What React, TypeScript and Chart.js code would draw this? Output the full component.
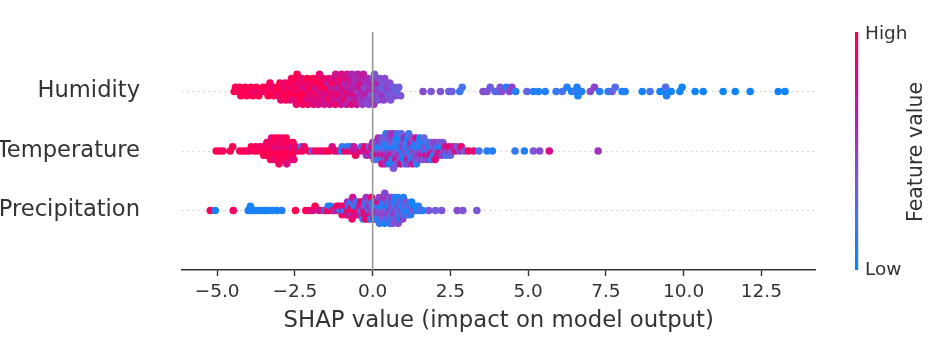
import React, { useEffect, useRef } from 'react';
import { Chart, registerables } from 'chart.js';

Chart.register(...registerables);

// ---------------- data ----------------
const features = ['Humidity', 'Temperature', 'Precipitation'];
const featureRows = [2, 1, 0];
const xTickValues = [-5, -2.5, 0, 2.5, 5, 7.5, 10, 12.5];
const xAxisTitle = 'SHAP value (impact on model output)';
const colorbarTitle = 'Feature value';
const colorbarHigh = 'High';
const colorbarLow = 'Low';

const humidityShap = [
  -4.45, -4.41, -4.33, -4.28, -4.24, -4.17, -4.10, -4.05, -3.98, -3.92, -3.85, -3.80, -3.74, -3.66, -3.58, -3.52, -3.46, -3.41, -3.36, -3.30, -3.27, -3.22,
  -3.18, -3.12, -3.07, -3.02,
  -2.98, -2.95, -2.91, -2.87, -2.84, -2.81,
  -2.79, -2.76, -2.73, -2.70, -2.67, -2.64, -2.61,
  -2.59, -2.57, -2.54, -2.52, -2.49, -2.47, -2.45, -2.43, -2.41,
  -2.39, -2.36, -2.33, -2.31, -2.28, -2.25, -2.23, -2.21,
  -2.19, -2.16, -2.13, -2.10, -2.08, -2.05, -2.03, -2.01,
  -1.98, -1.95, -1.92, -1.89, -1.87, -1.84, -1.82, -1.80,
  -1.79, -1.76, -1.74, -1.71, -1.68, -1.66, -1.64, -1.62, -1.60,
  -1.58, -1.55, -1.52, -1.49, -1.47, -1.44, -1.42, -1.40,
  -1.38, -1.35, -1.33, -1.30, -1.27, -1.25, -1.22, -1.20,
  -1.19, -1.17, -1.14, -1.11, -1.09, -1.06, -1.04, -1.02, -1.00,
  -0.98, -0.95, -0.93, -0.90, -0.88, -0.86, -0.84, -0.82, -0.80,
  -0.79, -0.77, -0.74, -0.72, -0.70, -0.68, -0.66, -0.64, -0.62, -0.60,
  -0.58, -0.56, -0.53, -0.51, -0.48, -0.46, -0.44, -0.42, -0.40,
  -0.38, -0.35, -0.33, -0.30, -0.27, -0.25, -0.23, -0.21,
  -0.19, -0.16, -0.13, -0.11, -0.08, -0.06, -0.04, -0.02,
  0.01, 0.04, 0.06, 0.09, 0.12, 0.14, 0.17, 0.19,
  0.22, 0.25, 0.28, 0.31, 0.34, 0.36, 0.39,
  0.43, 0.47, 0.51, 0.55, 0.58,
  0.63, 0.68, 0.73, 0.78,
  0.84, 0.90,
  1.62, 1.88, 2.18, 2.45, 2.55, 2.80, 2.88,
  3.55, 3.68, 3.78, 3.94, 4.02, 4.10, 4.16, 4.30, 4.40, 4.48, 4.60,
  4.96, 5.17, 5.33, 5.55, 5.90, 6.10, 6.25, 6.40, 6.52, 6.57, 6.60, 6.72,
  7.00, 7.13, 7.30, 7.57, 7.70, 7.80, 8.02, 8.12, 8.67, 8.92,
  9.24, 9.38, 9.42, 9.45, 9.60, 9.88, 9.95,
  10.37, 10.63, 11.27, 11.66, 12.14, 13.04, 13.26,
];
const humidityValue = [
  1, 1, 0.95, 1, 1, 0.95, 1, 1, 0.95, 1, 1, 0.9, 1, 1, 0.95, 1, 0.9, 1, 1, 0.95, 1, 0.9,
  1, 0.95, 1, 0.9,
  1, 0.9, 1, 0.95, 1, 0.85,
  1, 0.95, 0.9, 1, 1, 0.85, 0.95,
  1, 0.9, 1, 0.95, 0.85, 1, 0.9, 1, 0.95,
  0.95, 1, 0.85, 1, 0.9, 0.95, 1, 0.8,
  1, 0.9, 0.8, 1, 0.95, 0.85, 1, 0.9,
  0.9, 0.8, 1, 0.85, 0.95, 0.75, 0.9, 1,
  0.85, 1, 0.8, 0.9, 0.75, 0.95, 0.85, 1, 0.8,
  0.9, 0.75, 0.85, 1, 0.8, 0.7, 0.95, 0.85,
  0.8, 0.9, 0.7, 0.85, 1, 0.75, 0.8, 0.9,
  0.75, 0.85, 0.65, 0.9, 0.8, 0.7, 0.95, 0.75, 0.8,
  0.7, 0.85, 0.75, 0.6, 0.9, 0.8, 0.65, 0.75, 0.85,
  0.65, 0.8, 0.7, 0.55, 0.75, 0.85, 0.6, 0.7, 0.65, 0.8,
  0.6, 0.7, 0.55, 0.75, 0.65, 0.5, 0.7, 0.6, 0.8,
  0.55, 0.65, 0.5, 0.7, 0.6, 0.45, 0.65, 0.55,
  0.5, 0.6, 0.45, 0.65, 0.55, 0.4, 0.6, 0.5,
  0.45, 0.55, 0.4, 0.6, 0.5, 0.45, 0.65, 0.4,
  0.45, 0.5, 0.35, 0.55, 0.4, 0.5, 0.45,
  0.4, 0.5, 0.35, 0.45, 0.4,
  0.4, 0.35, 0.45, 0.3,
  0.35, 0.4,
  0.45, 0.4, 0.4, 0.3, 0.35, 0.15, 0.2,
  0.45, 0.4, 0.35, 0.3, 0.25, 0.4, 0.45, 0.1, 0.45, 0.5, 0.1,
  0.3, 0.1, 0.1, 0.1, 0.15, 0.2, 0.1, 0.05, 0.2, 0.1, 0.05, 0.1,
  0.45, 0.5, 0.1, 0.1, 0.35, 0.25, 0.05, 0.1, 0.05, 0.2,
  0.05, 0.05, 0.25, 0.1, 0.05, 0.05, 0.05,
  0.05, 0.05, 0.05, 0.05, 0.05, 0.05, 0.05,
];

const temperatureShap = [
  -5.03, -4.92, -4.81, -4.58, -4.50, -4.27, -4.16, -4.06, -3.97, -3.90, -3.81, -3.76, -3.70, -3.63, -3.58,
  -3.53, -3.50, -3.47, -3.45,
  -3.42, -3.40, -3.37, -3.35, -3.33,
  -3.30, -3.28, -3.25, -3.23, -3.21, -3.19,
  -3.17, -3.15, -3.13, -3.11, -3.10, -3.08, -3.07,
  -3.05, -3.03, -3.01, -2.99, -2.97, -2.96, -2.95,
  -2.93, -2.91, -2.88, -2.86, -2.84, -2.82,
  -2.80, -2.78, -2.76, -2.74, -2.72, -2.70,
  -2.68, -2.66, -2.63, -2.61, -2.58,
  -2.56, -2.53, -2.50, -2.47,
  -2.38, -2.29, -2.26, -2.20, -2.05, -1.95, -1.85, -1.72, -1.62, -1.50, -1.40, -1.30, -1.22, -1.12,
  -1.00, -0.98, -0.90, -0.82, -0.78, -0.70, -0.66, -0.60, -0.55, -0.48, -0.42, -0.36, -0.30, -0.25, -0.20, -0.15, -0.10, -0.06,
  0.02, -0.03, 0.04, 0.00, 0.05,
  0.08, 0.10, 0.12, 0.14, 0.16, 0.18,
  0.20, 0.22, 0.24, 0.26, 0.27, 0.29, 0.30,
  0.32, 0.34, 0.35, 0.37, 0.38, 0.40, 0.41, 0.43,
  0.44, 0.46, 0.48, 0.49, 0.51, 0.52, 0.54, 0.55,
  0.57, 0.58, 0.60, 0.61, 0.62, 0.64, 0.65, 0.66, 0.67,
  0.69, 0.70, 0.72, 0.74, 0.75, 0.77, 0.78, 0.79,
  0.81, 0.83, 0.84, 0.86, 0.87, 0.89, 0.90, 0.92,
  0.94, 0.95, 0.97, 0.99, 1.00, 1.02, 1.04,
  1.06, 1.07, 1.09, 1.10, 1.12, 1.13, 1.14, 1.16,
  1.18, 1.20, 1.22, 1.23, 1.25, 1.27, 1.28,
  1.30, 1.32, 1.34, 1.36, 1.37, 1.39, 1.41,
  1.43, 1.45, 1.47, 1.48, 1.50, 1.52,
  1.55, 1.57, 1.59, 1.61, 1.63, 1.65,
  1.68, 1.70, 1.72, 1.74, 1.77,
  1.80, 1.82, 1.85, 1.87, 1.89,
  1.92, 1.94, 1.96, 1.99, 2.01,
  2.04, 2.07, 2.10, 2.13,
  2.17, 2.20, 2.23, 2.26,
  2.29, 2.33, 2.37,
  2.42, 2.46, 2.50,
  2.55, 2.60, 2.67, 2.72, 2.80, 2.85, 2.95, 3.08,
  3.25, 3.42, 3.68, 3.85, 4.58, 4.88, 5.17, 5.37, 5.68, 7.25,
];
const temperatureValue = [
  1, 1, 0.95, 1, 1, 0.95, 1, 1, 0.9, 1, 1, 0.95, 1, 0.9, 1,
  1, 0.95, 1, 0.9,
  1, 0.9, 1, 0.95, 1,
  0.95, 1, 0.85, 1, 0.9, 1,
  1, 0.9, 1, 0.95, 0.8, 1, 0.9,
  0.9, 1, 0.95, 1, 0.85, 1, 0.95,
  1, 0.85, 1, 0.9, 1, 0.95,
  0.95, 1, 0.8, 1, 0.9, 1,
  1, 0.9, 0.95, 0.8, 1,
  0.95, 0.85, 1, 0.9,
  0.9, 0.3, 0.95, 0.9, 1, 0.45, 0.9, 1, 0.85, 0.95, 1, 0.8, 0.9, 0.85,
  0.1, 0.15, 0.85, 0.1, 0.9, 0.15, 0.8, 0.7, 0.95, 0.6, 0.85, 0.3, 0.75, 0.9, 0.55, 0.8, 0.35, 0.7,
  0.45, 0.75, 0.1, 0.55, 0.4,
  0.5, 0.15, 0.8, 0.45, 0.2, 0.6,
  0.4, 0.1, 0.7, 0.5, 0.15, 0.45, 0.85,
  0.45, 0.2, 0.75, 0.1, 0.5, 0.35, 0.6, 0.1,
  0.4, 0.1, 0.55, 0.15, 0.8, 0.45, 0.05, 0.5,
  0.45, 0.1, 0.7, 0.35, 0.15, 0.5, 0.1, 0.6, 0.4,
  0.5, 0.1, 0.45, 0.2, 0.75, 0.05, 0.4, 0.15,
  0.4, 0.1, 0.55, 0.15, 0.45, 0.05, 0.8, 0.3,
  0.1, 0.5, 0.15, 0.4, 0.05, 0.6, 0.2,
  0.45, 0.1, 0.35, 0.15, 0.7, 0.05, 0.5, 0.2,
  0.1, 0.45, 0.2, 0.6, 0.1, 0.4, 0.75,
  0.5, 0.1, 0.35, 0.15, 0.45, 0.8, 0.1,
  0.4, 0.1, 0.55, 0.2, 0.45, 0.05,
  0.5, 0.15, 0.7, 0.1, 0.4, 0.3,
  0.1, 0.45, 0.75, 0.2, 0.5,
  0.45, 0.1, 0.8, 0.35, 0.15,
  0.7, 0.4, 0.1, 0.5, 0.85,
  0.45, 0.15, 0.75, 0.4,
  0.8, 0.1, 0.5, 0.4,
  0.45, 0.75, 0.15,
  0.5, 0.85, 0.3,
  0.45, 0.7, 0.8, 0.4, 0.5, 0.9, 0.4, 0.95,
  0.85, 0.2, 0.1, 0.1, 0.15, 0.1, 0.4, 0.45, 0.8, 0.55,
];

const precipitationShap = [
  -5.22, -5.06, -4.48,
  -4.00, -3.95, -3.93, -3.86, -3.78, -3.66, -3.55, -3.44, -3.36, -3.22, -3.08, -2.92,
  -2.48, -2.15, -2.02, -1.92, -1.85, -1.72,
  -1.58, -1.52, -1.47, -1.43, -1.40, -1.35, -1.28, -1.22, -1.15, -1.10,
  -1.08, -1.05, -1.02,
  -0.98, -0.95, -0.92,
  -0.89, -0.86, -0.84, -0.81,
  -0.79, -0.76, -0.74, -0.71,
  -0.69, -0.68, -0.67, -0.66, -0.64, -0.62,
  -0.59, -0.57, -0.55, -0.53, -0.51,
  -0.49, -0.47, -0.45, -0.43, -0.41,
  -0.39, -0.37, -0.35, -0.34, -0.32, -0.31,
  -0.29, -0.27, -0.25, -0.24, -0.22, -0.21,
  -0.19, -0.18, -0.16, -0.15, -0.13, -0.12, -0.11,
  -0.09, -0.07, -0.06, -0.04, -0.03, -0.01,
  0.01, 0.03, 0.05, 0.06, 0.08, 0.09,
  0.11, 0.12, 0.14, 0.15, 0.17, 0.18, 0.19,
  0.21, 0.22, 0.24, 0.25, 0.27, 0.28, 0.29,
  0.31, 0.32, 0.33, 0.35, 0.36, 0.37, 0.38, 0.39,
  0.41, 0.42, 0.43, 0.45, 0.46, 0.47, 0.48, 0.49,
  0.51, 0.52, 0.53, 0.55, 0.56, 0.57, 0.58, 0.59,
  0.61, 0.62, 0.63, 0.65, 0.66, 0.67, 0.68, 0.69,
  0.71, 0.72, 0.74, 0.75, 0.77, 0.78, 0.79,
  0.81, 0.82, 0.84, 0.85, 0.87, 0.88, 0.89,
  0.91, 0.93, 0.94, 0.96, 0.97, 0.99,
  1.01, 1.03, 1.05, 1.07, 1.09,
  1.12, 1.14, 1.17, 1.19,
  1.22, 1.25, 1.28,
  1.32, 1.35, 1.38,
  1.43, 1.47, 1.54, 1.61,
  1.80, 2.02, 2.22, 2.72, 2.90, 3.35,
];
const precipitationValue = [
  0.95, 0.05, 0.95,
  0.05, 0.1, 0.05, 0.1, 0.05, 0.05, 0.1, 0.05, 0.05, 0.1, 0.05, 0.1,
  1, 1, 0.9, 0.8, 1, 0.75,
  0.9, 0.1, 0.95, 0.1, 0.85, 0.1, 0.95, 0.6, 1, 0.9,
  0.95, 0.1, 0.8,
  0.9, 0.5, 1,
  0.1, 0.85, 0.95, 0.55,
  0.9, 0.15, 0.75, 1,
  0.85, 0.6, 0.1, 0.9, 0.75, 0.95,
  0.1, 0.85, 0.5, 0.95, 0.15,
  0.8, 0.1, 0.9, 0.6, 0.75,
  0.95, 0.15, 0.8, 0.5, 0.9, 0.1,
  0.75, 0.45, 0.95, 0.1, 0.85, 0.55,
  0.9, 0.1, 0.7, 0.45, 0.95, 0.15, 0.6,
  0.8, 0.4, 0.1, 0.9, 0.5, 0.15,
  0.45, 0.1, 0.75, 0.4, 0.15, 0.5,
  0.4, 0.1, 0.55, 0.2, 0.45, 0.85, 0.1,
  0.5, 0.15, 0.4, 0.1, 0.45, 0.6, 0.2,
  0.45, 0.1, 0.5, 0.15, 0.4, 0.55, 0.1, 0.45,
  0.4, 0.1, 0.5, 0.45, 0.15, 0.55, 0.35, 0.1,
  0.5, 0.15, 0.45, 0.4, 0.1, 0.6, 0.45, 0.2,
  0.45, 0.1, 0.5, 0.4, 0.15, 0.45, 0.55, 0.1,
  0.4, 0.1, 0.5, 0.15, 0.45, 0.1, 0.4,
  0.1, 0.45, 0.15, 0.5, 0.1, 0.4, 0.05,
  0.45, 0.1, 0.4, 0.05, 0.5, 0.1,
  0.1, 0.4, 0.05, 0.45, 0.1,
  0.1, 0.4, 0.05, 0.35,
  0.1, 0.05, 0.4,
  0.05, 0.35, 0.1,
  0.05, 0.1, 0.35, 0.1,
  0.4, 0.35, 0.4, 0.45, 0.4, 0.4,
];

const featureShap = [humidityShap, temperatureShap, precipitationShap];
const featureValues = [humidityValue, temperatureValue, precipitationValue];

// ---------------- styling / layout ----------------
const X_MIN = -6.13;
const X_MAX = 14.24;
const AXIS_COLOR = '#333333';
const FONT = 'DejaVu Sans';

const COLOR_STOPS: [number, number[]][] = [
  [0, [0, 138, 250]],
  [0.2, [70, 115, 240]],
  [0.4, [125, 85, 215]],
  [0.5, [145, 65, 200]],
  [0.6, [170, 40, 180]],
  [0.8, [215, 12, 135]],
  [1, [255, 0, 82]],
];

function colorFor(f: number): string {
  const t = Math.max(0, Math.min(1, f));
  for (let i = 1; i < COLOR_STOPS.length; i++) {
    const [t1, c1] = COLOR_STOPS[i];
    const [t0, c0] = COLOR_STOPS[i - 1];
    if (t <= t1) {
      const u = (t - t0) / (t1 - t0 || 1);
      const c = c0.map((v, k) => Math.round(v + (c1[k] - v) * u));
      return `rgb(${c[0]},${c[1]},${c[2]})`;
    }
  }
  const c = COLOR_STOPS[COLOR_STOPS.length - 1][1];
  return `rgb(${c[0]},${c[1]},${c[2]})`;
}

// beeswarm stacking (same layout rule as shap's summary plot)
function swarmOffsets(shaps: number[], rowHeight = 0.4): number[] {
  const n = shaps.length;
  const nbins = 100;
  const mn = Math.min(...shaps);
  const mx = Math.max(...shaps);
  const quant = shaps.map((v) => Math.round((nbins * (v - mn)) / (mx - mn + 1e-8)));
  const inds = quant.map((_, i) => i).sort((a, b) => quant[a] - quant[b] || a - b);
  const ys = new Array(n).fill(0);
  let layer = 0;
  let last = -1;
  for (const i of inds) {
    if (quant[i] !== last) layer = 0;
    ys[i] = Math.ceil(layer / 2) * ((layer % 2) * 2 - 1);
    layer += 1;
    last = quant[i];
  }
  const m = Math.max(...ys.map((y) => y + 1));
  return ys.map((y) => (y * 0.9 * rowHeight) / m);
}

function fmtTick(v: number): string {
  return v.toFixed(1).replace('-', '\u2212');
}

const colorbarPlugin = {
  id: 'shapColorbar',
  afterDraw(chart: any) {
    const { ctx, chartArea } = chart;
    const top = chartArea.top;
    const bottom = chartArea.bottom;
    const x = 855;
    const w = 3.2;
    ctx.save();
    const grad = ctx.createLinearGradient(0, bottom, 0, top);
    COLOR_STOPS.forEach(([t, c]) => grad.addColorStop(t, `rgb(${c[0]},${c[1]},${c[2]})`));
    ctx.fillStyle = grad;
    ctx.fillRect(x, top, w, bottom - top);
    ctx.fillStyle = AXIS_COLOR;
    ctx.font = `18.5px "${FONT}"`;
    ctx.textAlign = 'left';
    ctx.textBaseline = 'middle';
    ctx.fillText(colorbarHigh, 865, top + 2);
    ctx.fillText(colorbarLow, 865, bottom);
    ctx.translate(917, (top + bottom) / 2 + 1);
    ctx.rotate(-Math.PI / 2);
    ctx.textAlign = 'center';
    ctx.font = `20.5px "${FONT}"`;
    ctx.fillText(colorbarTitle, 0, 0);
    ctx.restore();
  },
};

export default function App() {
  const ref = useRef<HTMLCanvasElement | null>(null);

  useEffect(() => {
    if (!ref.current) return;
    const scatterSets = features.map((name, r) => {
      const shaps = featureShap[r];
      const vals = featureValues[r];
      const offs = swarmOffsets(shaps);
      return {
        type: 'scatter' as const,
        label: name,
        data: shaps.map((v, i) => ({ x: v, y: featureRows[r] + offs[i] })),
        pointBackgroundColor: shaps.map((_, i) => colorFor(vals[i] ?? 0.5)),
        pointBorderWidth: 0,
        borderWidth: 0,
        pointRadius: 3.8,
        pointHoverRadius: 3.8,
        order: 1,
      };
    });

    const chart = new Chart(ref.current, {
      type: 'scatter',
      data: {
        datasets: [
          {
            type: 'line' as const,
            label: 'zero',
            data: [
              { x: 0, y: -1 },
              { x: 0, y: 3 },
            ],
            borderColor: '#999999',
            borderWidth: 1.6,
            pointRadius: 0,
            showLine: true,
            order: 0,
          } as any,
          ...scatterSets,
        ],
      },
      options: {
        animation: false,
        responsive: false,
        maintainAspectRatio: false,
        events: [],
        layout: { padding: { top: 32, right: 126.5, left: 0, bottom: 0 } },
        plugins: { legend: { display: false }, tooltip: { enabled: false } },
        scales: {
          x: {
            type: 'linear',
            min: X_MIN,
            max: X_MAX,
            afterBuildTicks: (s: any) => {
              s.ticks = xTickValues.map((v) => ({ value: v }));
            },
            afterFit: (s: any) => {
              s.height = 80;
            },
            ticks: {
              callback: (v: any) => fmtTick(Number(v)),
              color: AXIS_COLOR,
              font: { family: FONT, size: 18.5 },
              padding: 5,
              maxRotation: 0,
              autoSkip: false,
            },
            grid: {
              display: true,
              drawOnChartArea: false,
              drawTicks: true,
              tickLength: 6,
              tickColor: AXIS_COLOR,
              tickWidth: 1.4,
            },
            border: { display: true, color: AXIS_COLOR, width: 1.4 },
            title: {
              display: true,
              text: xAxisTitle,
              color: AXIS_COLOR,
              font: { family: FONT, size: 22.8 },
              padding: { top: 0, bottom: 15 },
            },
          },
          y: {
            type: 'linear',
            min: -1,
            max: 3,
            afterBuildTicks: (s: any) => {
              s.ticks = featureRows.map((v) => ({ value: v }));
            },
            afterFit: (s: any) => {
              s.width = 182;
            },
            ticks: {
              callback: (v: any) => {
                const idx = featureRows.indexOf(Number(v));
                return idx >= 0 ? features[idx] : '';
              },
              color: AXIS_COLOR,
              font: { family: FONT, size: 22.6 },
              padding: 0,
              autoSkip: false,
            },
            grid: {
              display: true,
              drawTicks: true,
              tickLength: 42,
              tickColor: 'rgba(0,0,0,0)',
              color: '#cccccc',
              lineWidth: 1,
            },
            border: { display: false, dash: [1.5, 3.8] },
          },
        },
      } as any,
      plugins: [colorbarPlugin],
    });
    return () => chart.destroy();
  }, []);

  return (
    <div style={{ position: 'fixed', left: 0, top: 0, width: 942, height: 350, background: '#ffffff' }}>
      <canvas ref={ref} width={942} height={350} style={{ display: 'block' }} />
    </div>
  );
}
